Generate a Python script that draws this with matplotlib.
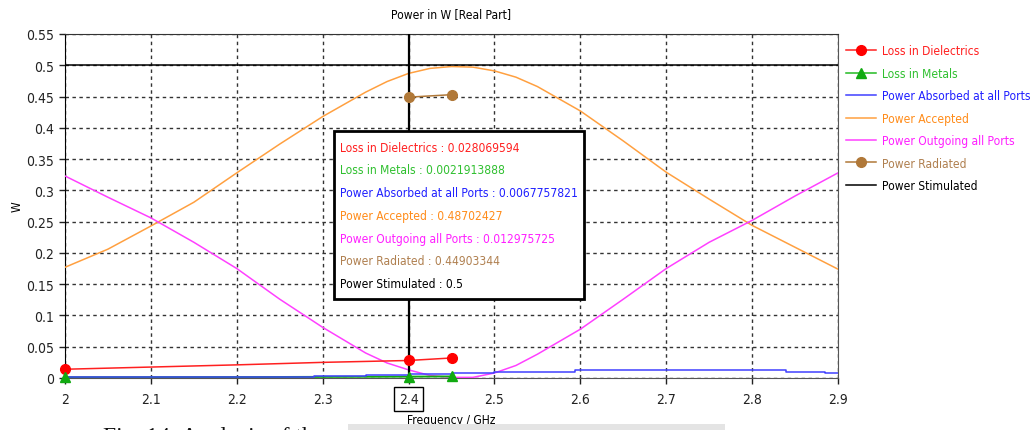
import matplotlib
matplotlib.use("Agg")
import matplotlib.pyplot as plt
from matplotlib.lines import Line2D
from matplotlib.patches import Rectangle
from matplotlib.font_manager import FontProperties, fontManager
from matplotlib.textpath import TextPath

# Pick a narrow sans face when one is installed
narrow = [f for f in fontManager.ttflist
          if f.name == 'DejaVu Sans' and f.stretch == 'condensed' and f.style == 'normal'
          and f.weight in (400, 'normal', 'regular')]
if narrow:
    plt.rcParams['font.family'] = ['DejaVu Sans']
    plt.rcParams['font.stretch'] = 'condensed'
else:
    plt.rcParams['font.family'] = ['Liberation Sans Narrow', 'DejaVu Sans']

DPI = 100

# Frequency sweep (GHz)
freq = [2.0, 2.05, 2.1, 2.15, 2.2, 2.25, 2.3, 2.35, 2.375, 2.4, 2.425, 2.45, 2.475,
        2.5, 2.525, 2.55, 2.6, 2.65, 2.7, 2.75, 2.8, 2.85, 2.9]
power_accepted = [0.177, 0.206, 0.243, 0.281, 0.328, 0.374, 0.418, 0.457, 0.474, 0.487,
                  0.495, 0.498, 0.497, 0.491, 0.481, 0.466, 0.427, 0.379, 0.329, 0.286,
                  0.244, 0.209, 0.174]
power_outgoing = [0.323, 0.289, 0.256, 0.217, 0.175, 0.126, 0.081, 0.040, 0.024, 0.013,
                  0.004, 0.001, 0.001, 0.008, 0.020, 0.038, 0.078, 0.126, 0.175, 0.217,
                  0.252, 0.291, 0.328]

absorbed_freq = [2.0, 2.22, 2.29, 2.35, 2.4, 2.45, 2.5, 2.594, 2.84, 2.885, 2.9]
power_absorbed = [0.0008, 0.0022, 0.0033, 0.0055, 0.0068, 0.0075, 0.0096, 0.0128,
                  0.0102, 0.0085, 0.0085]

diel_freq = [2.0, 2.1, 2.2, 2.3, 2.4, 2.45]
loss_dielectrics = [0.014, 0.0175, 0.021, 0.025, 0.028, 0.032]
diel_marker_freq = [2.0, 2.4, 2.45]
diel_marker_vals = [0.014, 0.028, 0.032]

metal_freq = [2.0, 2.22, 2.4, 2.45]
loss_metals = [0.0012, 0.0015, 0.0022, 0.0025]
metal_marker_freq = [2.0, 2.4, 2.45]
metal_marker_vals = [0.0012, 0.0022, 0.0025]

rad_freq = [2.4, 2.45]
power_radiated = [0.449, 0.453]

stim_freq = [2.0, 2.9]
power_stimulated = [0.5, 0.5]

marker_freq = 2.4
readout_labels = ["Loss in Dielectrics : 0.028069594",
                  "Loss in Metals : 0.0021913888",
                  "Power Absorbed at all Ports : 0.0067757821",
                  "Power Accepted : 0.48702427",
                  "Power Outgoing all Ports : 0.012975725",
                  "Power Radiated : 0.44903344",
                  "Power Stimulated : 0.5"]

series_names = ["Loss in Dielectrics", "Loss in Metals", "Power Absorbed at all Ports",
                "Power Accepted", "Power Outgoing all Ports", "Power Radiated",
                "Power Stimulated"]
line_colors = ["#ff2020", "#22bb22", "#4040ff", "#ffa040", "#ff40ff", "#b07838", "#000000"]
text_colors = ["#ff2020", "#30c030", "#2020ff", "#ff8c1a", "#ff20ff", "#b08050", "#000000"]

xticks = [2.0, 2.1, 2.2, 2.3, 2.4, 2.5, 2.6, 2.7, 2.8, 2.9]
xtick_labels = ["2", "2.1", "2.2", "2.3", "2.4", "2.5", "2.6", "2.7", "2.8", "2.9"]
yticks = [0, 0.05, 0.1, 0.15, 0.2, 0.25, 0.3, 0.35, 0.4, 0.45, 0.5, 0.55]
ytick_labels = ["0", "0.05", "0.1", "0.15", "0.2", "0.25", "0.3", "0.35", "0.4",
                "0.45", "0.5", "0.55"]

# Font size chosen so the longest legend entry is about 147 px wide
probe = TextPath((0, 0), "Power Absorbed at all Ports", size=10,
                 prop=FontProperties(family=plt.rcParams['font.family'],
                                     stretch=plt.rcParams['font.stretch']))
probe_px = probe.get_extents().width * DPI / 72
FS = min(11.0, 10 * 147 / probe_px)
FS_PX = FS * DPI / 72
TICK_FS = FS * 1.15

fig = plt.figure(figsize=(10.36, 4.31), dpi=DPI)
ax = fig.add_axes([65/1036, 52/431, (838-65)/1036, (379-35)/431])

ax.set_xlim(2.0, 2.9)
ax.set_ylim(0, 0.55)
ax.set_xticks(xticks)
ax.set_xticklabels(xtick_labels)
ax.set_yticks(yticks)
ax.set_yticklabels(ytick_labels)
ax.tick_params(direction='out', length=4, width=1, labelsize=TICK_FS, colors='#222222', pad=4)
ax.tick_params(axis='x', pad=6)
ax.grid(True, color='#333333', linestyle=(0, (2.5, 2.5)), linewidth=1)
for s in ax.spines.values():
    s.set_color('#555555')
ax.spines['left'].set_color('#000000')
ax.spines['top'].set_color('#333333')

ax.plot(freq, power_accepted, color=line_colors[3], lw=1.1, zorder=3)
ax.plot(freq, power_outgoing, color=line_colors[4], lw=1.1, zorder=3)
ax.plot(metal_freq, loss_metals, color='#11aa11', lw=1.4, zorder=3)
ax.plot(absorbed_freq, power_absorbed, color=line_colors[2], lw=1.1, zorder=3,
        drawstyle='steps-post')
ax.plot(diel_freq, loss_dielectrics, color=line_colors[0], lw=1.1, zorder=3)
ax.plot(diel_marker_freq, diel_marker_vals, 'o', color='#ff0000', ms=7, zorder=5,
        clip_on=False)
ax.plot(metal_marker_freq, metal_marker_vals, '^', color='#11aa11', ms=7, zorder=5,
        clip_on=False)
ax.plot(rad_freq, power_radiated, color=line_colors[5], lw=1.1, marker='o', ms=7,
        zorder=5)
ax.plot(stim_freq, power_stimulated, color=line_colors[6], lw=1.1, zorder=3)

# Readout marker line at the selected frequency
ax.axvline(marker_freq, color='black', lw=1.6, zorder=4)

# Boxed tick label at the marker frequency
for lbl in ax.get_xticklabels():
    if lbl.get_text() == "2.4":
        lbl.set_bbox(dict(facecolor='white', edgecolor='black', linewidth=1, pad=3.5))

ax.set_title("Power in W [Real Part]", fontsize=FS, pad=12)
ax.set_xlabel("Frequency / GHz", fontsize=FS, labelpad=5)
ax.set_ylabel("W", fontsize=FS)
ax.yaxis.set_label_coords(-41/773, 0.5)

# Readout box
box = Rectangle((334/1036, 1 - 300/431), (584-334)/1036, (300-132)/431,
                transform=fig.transFigure, facecolor='white', edgecolor='black',
                linewidth=2, zorder=10)
fig.patches.append(box)
for i, (txt, c) in enumerate(zip(readout_labels, text_colors)):
    fig.text(340/1036, 1 - (148 + i * 22.8)/431, txt, color=c, fontsize=FS,
             va='center', ha='left', zorder=11)

# Legend outside the axes
handles = [
    Line2D([], [], color=line_colors[0], marker='o', mfc='#ff0000', mec='#ff0000', ms=7, lw=1.1),
    Line2D([], [], color=line_colors[1], marker='^', mfc='#11aa11', mec='#11aa11', ms=7, lw=1.1),
    Line2D([], [], color=line_colors[2], lw=1.1),
    Line2D([], [], color=line_colors[3], lw=1.1),
    Line2D([], [], color=line_colors[4], lw=1.1),
    Line2D([], [], color=line_colors[5], marker='o', ms=7, lw=1.1),
    Line2D([], [], color=line_colors[6], lw=1.1),
]
leg = fig.legend(handles, series_names, loc='upper left',
                 bbox_to_anchor=(844/1036, 1 - 43/431), frameon=False,
                 fontsize=FS, handlelength=30/FS_PX, handletextpad=6/FS_PX,
                 borderpad=0.2, borderaxespad=0,
                 labelspacing=(23.9 - FS_PX * 1.2) / FS_PX)
for t, c in zip(leg.get_texts(), text_colors):
    t.set_color(c)

# Figure caption running off the bottom edge
fig.text(103/1036, -12/431, "Fig. 14: Analysis of the power of antenna for 2.45GHz",
         fontsize=17, family='Liberation Serif', stretch='normal',
         va='baseline', ha='left', color='#111111')
fig.patches.append(Rectangle((348/1036, 0), (725-348)/1036, 6/431,
                             transform=fig.transFigure, facecolor='#e4e4e4',
                             edgecolor='none', zorder=12))

fig.savefig("out.png", dpi=DPI)
